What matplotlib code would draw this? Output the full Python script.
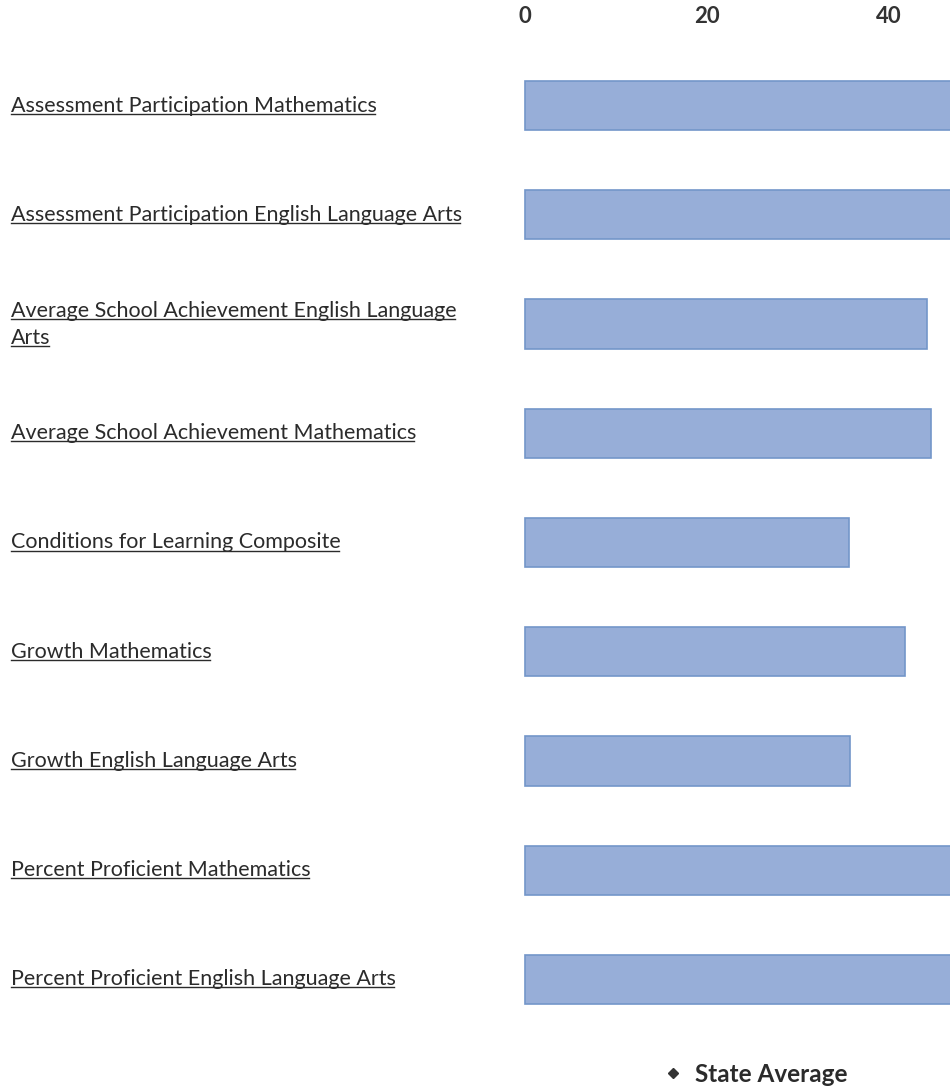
import matplotlib
matplotlib.use("Agg")
import matplotlib.pyplot as plt
from matplotlib.lines import Line2D
import numpy as np

categories = [
    "Assessment Participation Mathematics",
    "Assessment Participation English Language Arts",
    "Average School Achievement English Language Arts",
    "Average School Achievement Mathematics",
    "Conditions for Learning Composite",
    "Growth Mathematics",
    "Growth English Language Arts",
    "Percent Proficient Mathematics",
    "Percent Proficient English Language Arts",
]
values = [50.0, 46.8, 44.2, 44.6, 35.6, 41.8, 35.7, 50.0, 50.0]
xticks = [0, 20, 40]
legend_label = "State Average"

FONT = "Lato"
TXT = "#2b2b2b"
W, H = 950, 1088

fig = plt.figure(figsize=(W / 100, H / 100), dpi=100)
ax = fig.add_axes([524 / W, 1 - 1034 / H, 1 - 524 / W, 983 / H])
y = np.arange(len(categories))
ax.barh(y, values, height=0.45, color="#97aed8", edgecolor="#7396c9", linewidth=1.2)
ax.set_ylim(len(categories) - 0.5, -0.5)
ax.set_xlim(-0.1, 46.7)
ax.xaxis.tick_top()
ax.set_xticks(xticks)
ax.set_xticklabels([str(t) for t in xticks], fontfamily=FONT, fontsize=16,
                   fontweight="bold", color="#333333")
ax.tick_params(axis="x", length=0, pad=17)
ax.set_yticks([])
for s in ax.spines.values():
    s.set_visible(False)

# category labels, wrapped by pixel width and underlined like links
fig.canvas.draw()
rend = fig.canvas.get_renderer()
maxw = 470
line_h = 27
fs = 15.5
for yi, lab in zip(y, categories):
    yc = ax.transData.transform((0, yi))[1]
    words = lab.split()
    lines, cur = [], ""
    for w in words:
        trial = (cur + " " + w).strip()
        t = fig.text(0, 0, trial, fontfamily=FONT, fontsize=fs)
        wpx = t.get_window_extent(rend).width
        t.remove()
        if wpx > maxw and cur:
            lines.append(cur)
            cur = w
        else:
            cur = trial
    lines.append(cur)
    n = len(lines)
    for k, ln in enumerate(lines):
        ypx = yc + (n - 1) / 2 * line_h - k * line_h
        t = fig.text(11 / W, ypx / H, ln, fontfamily=FONT, fontsize=fs, color=TXT,
                     ha="left", va="center")
        bb = t.get_window_extent(rend)
        uy = bb.y0 + 2
        fig.add_artist(Line2D([bb.x0 / W, (bb.x1 - 2) / W], [uy / H, uy / H], color=TXT, lw=1.0))

handle = Line2D([], [], marker="D", color="#333333", linestyle="none", markersize=5)
leg = fig.legend([handle], [legend_label], loc="center", bbox_to_anchor=(754 / W, 1 - 1074 / H),
                 frameon=False, handletextpad=0.4, handlelength=1.0,
                 prop={"family": FONT, "size": 17.5, "weight": "bold"})
for t in leg.get_texts():
    t.set_color("#2b2b2b")

fig.savefig("out.png", dpi=100)
